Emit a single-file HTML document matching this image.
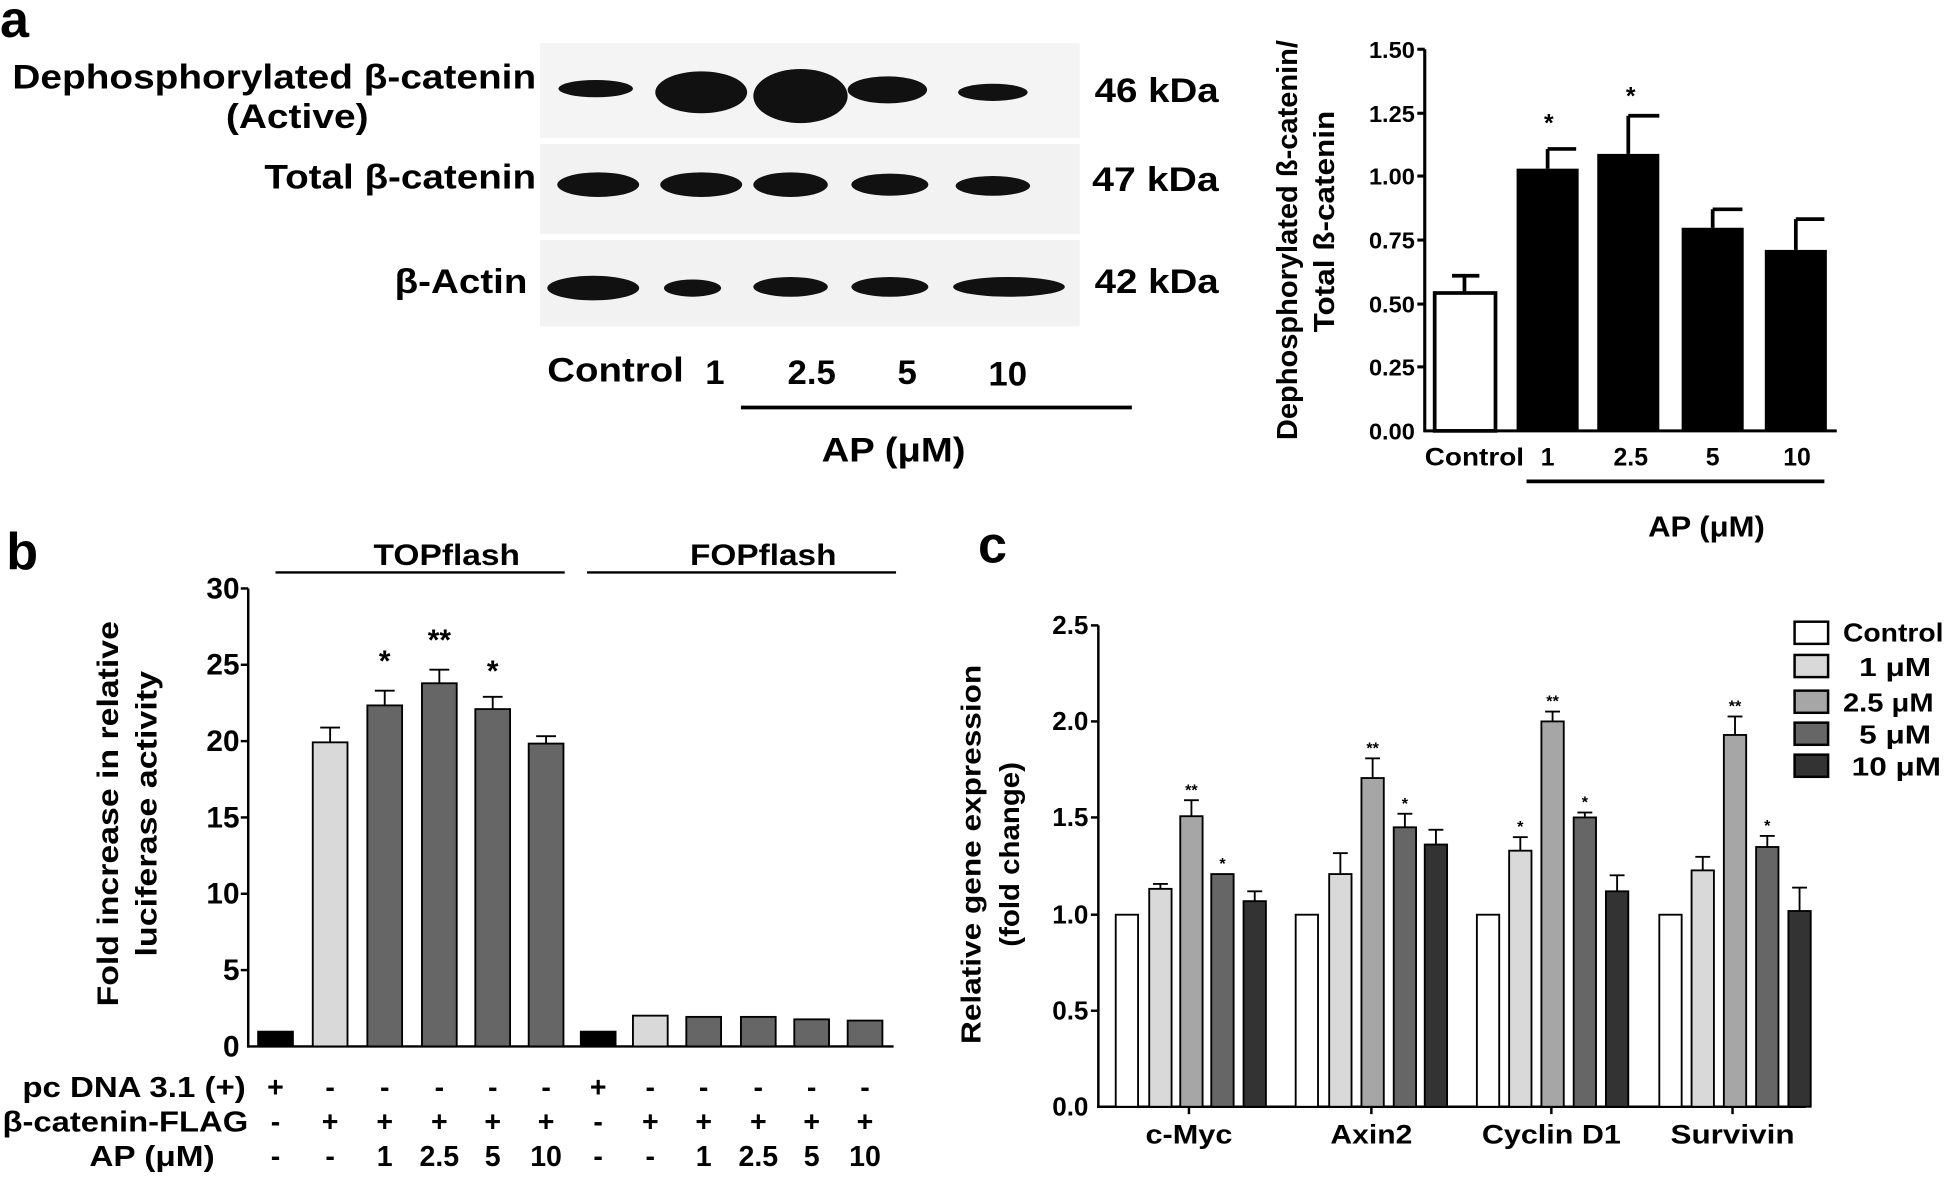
<!DOCTYPE html>
<html><head><meta charset="utf-8"><style>
html,body{margin:0;padding:0;background:#fff;}
svg{display:block;}
text{font-family:"Liberation Sans",sans-serif;font-weight:bold;fill:#000;}
</style></head><body>
<svg width="1946" height="1188" viewBox="0 0 1568 965" preserveAspectRatio="none" xmlns="http://www.w3.org/2000/svg">
<!-- Panel a -->
<text x="0" y="30" font-size="42">a</text>
<rect x="435" y="35" width="435" height="77" fill="#f4f4f4"/>
<rect x="435" y="117" width="435" height="73" fill="#f2f2f2"/>
<rect x="435" y="195" width="435" height="70" fill="#f2f2f2"/>
<g fill="#111">
<ellipse cx="480" cy="72" rx="30" ry="7"/>
<ellipse cx="565" cy="75" rx="37" ry="17"/>
<ellipse cx="645" cy="78" rx="38" ry="22"/>
<ellipse cx="715" cy="73" rx="32" ry="11"/>
<ellipse cx="800" cy="75" rx="28" ry="7"/>
<ellipse cx="482" cy="150" rx="33" ry="10"/>
<ellipse cx="565" cy="150" rx="33" ry="10"/>
<ellipse cx="637" cy="150" rx="30" ry="10"/>
<ellipse cx="717" cy="150" rx="31" ry="9"/>
<ellipse cx="800" cy="151" rx="30" ry="8"/>
<ellipse cx="478" cy="234" rx="37" ry="10"/>
<ellipse cx="558" cy="234" rx="23" ry="7"/>
<ellipse cx="637" cy="233" rx="30" ry="8"/>
<ellipse cx="717" cy="233" rx="31" ry="8"/>
<ellipse cx="813" cy="233" rx="45" ry="8"/>
</g>
<text x="10" y="72" font-size="28" textLength="422" lengthAdjust="spacingAndGlyphs">Dephosphorylated β-catenin</text>
<text x="182" y="104" font-size="28" textLength="115" lengthAdjust="spacingAndGlyphs">(Active)</text>
<text x="213" y="153" font-size="28" textLength="219" lengthAdjust="spacingAndGlyphs">Total β-catenin</text>
<text x="318" y="238" font-size="28" textLength="107" lengthAdjust="spacingAndGlyphs">β-Actin</text>
<text x="882" y="83" font-size="28" textLength="100" lengthAdjust="spacingAndGlyphs">46 kDa</text>
<text x="880" y="155" font-size="28" textLength="102" lengthAdjust="spacingAndGlyphs">47 kDa</text>
<text x="882" y="238" font-size="28" textLength="100" lengthAdjust="spacingAndGlyphs">42 kDa</text>
<g font-size="28" text-anchor="middle">
<text x="496" y="310" textLength="110" lengthAdjust="spacingAndGlyphs">Control</text><text x="576" y="312">1</text><text x="654" y="312">2.5</text><text x="731" y="312">5</text><text x="812" y="313">10</text>
<text x="720" y="375" textLength="116" lengthAdjust="spacingAndGlyphs">AP (μM)</text>
</g>
<line x1="597" y1="331" x2="912" y2="331" stroke="#000" stroke-width="3"/>
<!-- bar chart a -->
<g stroke="#000" stroke-width="2.5">
<line x1="1148" y1="40" x2="1148" y2="351"/>
<line x1="1147" y1="350" x2="1480" y2="350"/>
<line x1="1142" y1="40" x2="1148" y2="40"/><line x1="1142" y1="92" x2="1148" y2="92"/><line x1="1142" y1="143" x2="1148" y2="143"/><line x1="1142" y1="195" x2="1148" y2="195"/><line x1="1142" y1="247" x2="1148" y2="247"/><line x1="1142" y1="298" x2="1148" y2="298"/>
</g>
<g font-size="19" text-anchor="end">
<text x="1140" y="47">1.50</text><text x="1140" y="99">1.25</text><text x="1140" y="150">1.00</text><text x="1140" y="202">0.75</text><text x="1140" y="254">0.50</text><text x="1140" y="305">0.25</text><text x="1140" y="357">0.00</text>
</g>
<g stroke="#000" stroke-width="3">
<line x1="1180" y1="238" x2="1180" y2="224"/><line x1="1170" y1="224" x2="1192" y2="224"/>
<line x1="1247" y1="137" x2="1247" y2="121"/><line x1="1247" y1="121" x2="1270" y2="121"/>
<line x1="1312" y1="125" x2="1312" y2="94"/><line x1="1312" y1="94" x2="1337" y2="94"/>
<line x1="1380" y1="185" x2="1380" y2="170"/><line x1="1380" y1="170" x2="1404" y2="170"/>
<line x1="1447" y1="203" x2="1447" y2="178"/><line x1="1447" y1="178" x2="1470" y2="178"/>
</g>
<rect x="1156" y="238" width="49" height="112" fill="#fff" stroke="#000" stroke-width="3"/>
<rect x="1222" y="137" width="50" height="213" fill="#000"/>
<rect x="1287" y="125" width="50" height="225" fill="#000"/>
<rect x="1355" y="185" width="50" height="165" fill="#000"/>
<rect x="1422" y="203" width="50" height="147" fill="#000"/>
<text x="1248" y="107" font-size="20" text-anchor="middle">*</text>
<text x="1314" y="85" font-size="20" text-anchor="middle">*</text>
<g font-size="20" text-anchor="middle">
<text x="1188" y="378" textLength="80" lengthAdjust="spacingAndGlyphs">Control</text><text x="1247" y="378">1</text><text x="1314" y="378">2.5</text><text x="1380" y="378">5</text><text x="1448" y="378">10</text>
<text x="1375" y="436" font-size="23" textLength="94" lengthAdjust="spacingAndGlyphs">AP (μM)</text>
</g>
<line x1="1230" y1="391" x2="1470" y2="391" stroke="#000" stroke-width="3"/>
<g font-size="23" text-anchor="middle">
<text transform="translate(1045,195) rotate(-90)" textLength="325" lengthAdjust="spacingAndGlyphs">Dephosphorylated ß-catenin/</text>
<text transform="translate(1075,180) rotate(-90)" textLength="180" lengthAdjust="spacingAndGlyphs">Total ß-catenin</text>
</g>

<!-- Panel b -->
<text x="5" y="462" font-size="42">b</text>
<text x="360" y="459" font-size="24" text-anchor="middle" textLength="118" lengthAdjust="spacingAndGlyphs">TOPflash</text>
<text x="615" y="459" font-size="24" text-anchor="middle" textLength="118" lengthAdjust="spacingAndGlyphs">FOPflash</text>
<line x1="222" y1="465" x2="455" y2="465" stroke="#000" stroke-width="2"/>
<line x1="473" y1="465" x2="722" y2="465" stroke="#000" stroke-width="2"/>
<g stroke="#000" stroke-width="2">
<line x1="200" y1="478" x2="200" y2="851"/>
<line x1="199" y1="850" x2="720" y2="850"/>
<line x1="194" y1="478" x2="200" y2="478"/><line x1="194" y1="540" x2="200" y2="540"/><line x1="194" y1="602" x2="200" y2="602"/><line x1="194" y1="664" x2="200" y2="664"/><line x1="194" y1="726" x2="200" y2="726"/><line x1="194" y1="788" x2="200" y2="788"/>
</g>
<g font-size="24" text-anchor="end">
<text x="193" y="486">30</text><text x="193" y="548">25</text><text x="193" y="610">20</text><text x="193" y="672">15</text><text x="193" y="734">10</text><text x="193" y="796">5</text><text x="193" y="858">0</text>
</g>
<g stroke="#000" stroke-width="1.5">
<line x1="266" y1="603" x2="266" y2="591"/><line x1="258" y1="591" x2="274" y2="591"/>
<line x1="310" y1="573" x2="310" y2="561"/><line x1="302" y1="561" x2="318" y2="561"/>
<line x1="354" y1="555" x2="354" y2="544"/><line x1="346" y1="544" x2="362" y2="544"/>
<line x1="397" y1="576" x2="397" y2="566"/><line x1="389" y1="566" x2="405" y2="566"/>
<line x1="440" y1="604" x2="440" y2="598"/><line x1="432" y1="598" x2="448" y2="598"/>
</g>
<g stroke="#000" stroke-width="1.5">
<rect x="208" y="838" width="28" height="12" fill="#000"/>
<rect x="252" y="603" width="28" height="247" fill="#d9d9d9"/>
<rect x="296" y="573" width="28" height="277" fill="#666"/>
<rect x="340" y="555" width="28" height="295" fill="#666"/>
<rect x="383" y="576" width="28" height="274" fill="#666"/>
<rect x="426" y="604" width="28" height="246" fill="#666"/>
<rect x="468" y="838" width="28" height="12" fill="#000"/>
<rect x="510" y="825" width="28" height="25" fill="#d9d9d9"/>
<rect x="553" y="826" width="28" height="24" fill="#666"/>
<rect x="597" y="826" width="28" height="24" fill="#666"/>
<rect x="640" y="828" width="28" height="22" fill="#666"/>
<rect x="683" y="829" width="28" height="21" fill="#666"/>
</g>
<g font-size="24" text-anchor="middle">
<text x="310" y="545">*</text><text x="354" y="528">**</text><text x="397" y="553">*</text>
</g>
<g font-size="24" text-anchor="middle">
<text transform="translate(95,661) rotate(-90)" textLength="313" lengthAdjust="spacingAndGlyphs">Fold  increase in relative</text>
<text transform="translate(126,661) rotate(-90)" textLength="232" lengthAdjust="spacingAndGlyphs">luciferase activity</text>
</g>
<g font-size="23">
<text x="18" y="891" textLength="180" lengthAdjust="spacingAndGlyphs">pc DNA 3.1 (+)</text>
<text x="2" y="919" textLength="198" lengthAdjust="spacingAndGlyphs">β-catenin-FLAG</text>
<text x="72" y="947" textLength="101" lengthAdjust="spacingAndGlyphs">AP (μM)</text>
</g>
<g font-size="23" text-anchor="middle">
<text x="222" y="891">+</text><text x="266" y="891">-</text><text x="310" y="891">-</text><text x="354" y="891">-</text><text x="397" y="891">-</text><text x="440" y="891">-</text><text x="482" y="891">+</text><text x="524" y="891">-</text><text x="567" y="891">-</text><text x="611" y="891">-</text><text x="654" y="891">-</text><text x="697" y="891">-</text>
<text x="222" y="919">-</text><text x="266" y="919">+</text><text x="310" y="919">+</text><text x="354" y="919">+</text><text x="397" y="919">+</text><text x="440" y="919">+</text><text x="482" y="919">-</text><text x="524" y="919">+</text><text x="567" y="919">+</text><text x="611" y="919">+</text><text x="654" y="919">+</text><text x="697" y="919">+</text>
<text x="222" y="947">-</text><text x="266" y="947">-</text><text x="310" y="947">1</text><text x="354" y="947">2.5</text><text x="397" y="947">5</text><text x="440" y="947">10</text><text x="482" y="947">-</text><text x="524" y="947">-</text><text x="567" y="947">1</text><text x="611" y="947">2.5</text><text x="654" y="947">5</text><text x="697" y="947">10</text>
</g>

<!-- Panel c -->
<text x="788" y="457" font-size="42">c</text>
<g stroke="#000" stroke-width="2">
<line x1="885" y1="508" x2="885" y2="900"/>
<line x1="884" y1="899" x2="1455" y2="899"/>
<line x1="879" y1="508" x2="885" y2="508"/><line x1="879" y1="586" x2="885" y2="586"/><line x1="879" y1="664" x2="885" y2="664"/><line x1="879" y1="743" x2="885" y2="743"/><line x1="879" y1="821" x2="885" y2="821"/>
<line x1="958" y1="899" x2="958" y2="905"/><line x1="1105" y1="899" x2="1105" y2="905"/><line x1="1250" y1="899" x2="1250" y2="905"/><line x1="1396" y1="899" x2="1396" y2="905"/>
</g>
<g font-size="21" text-anchor="end">
<text x="877" y="515">2.5</text><text x="877" y="593">2.0</text><text x="877" y="671">1.5</text><text x="877" y="750">1.0</text><text x="877" y="828">0.5</text><text x="877" y="906">0.0</text>
</g>
<g stroke="#000" stroke-width="1.5">
<rect x="899" y="743" width="18" height="156" fill="#fff"/>
<line x1="935" y1="722" x2="935" y2="718"/><line x1="929" y1="718" x2="941" y2="718"/>
<rect x="926" y="722" width="18" height="177" fill="#d9d9d9"/>
<line x1="960" y1="663" x2="960" y2="650"/><line x1="954" y1="650" x2="966" y2="650"/>
<rect x="951" y="663" width="18" height="236" fill="#a6a6a6"/>
<rect x="976" y="710" width="18" height="189" fill="#666"/>
<line x1="1011" y1="732" x2="1011" y2="724"/><line x1="1005" y1="724" x2="1017" y2="724"/>
<rect x="1002" y="732" width="18" height="167" fill="#333"/>
<rect x="1044" y="743" width="18" height="156" fill="#fff"/>
<line x1="1080" y1="710" x2="1080" y2="693"/><line x1="1074" y1="693" x2="1086" y2="693"/>
<rect x="1071" y="710" width="18" height="189" fill="#d9d9d9"/>
<line x1="1106" y1="632" x2="1106" y2="616"/><line x1="1100" y1="616" x2="1112" y2="616"/>
<rect x="1097" y="632" width="18" height="267" fill="#a6a6a6"/>
<line x1="1132" y1="672" x2="1132" y2="661"/><line x1="1126" y1="661" x2="1138" y2="661"/>
<rect x="1123" y="672" width="18" height="227" fill="#666"/>
<line x1="1157" y1="686" x2="1157" y2="674"/><line x1="1151" y1="674" x2="1163" y2="674"/>
<rect x="1148" y="686" width="18" height="213" fill="#333"/>
<rect x="1190" y="743" width="18" height="156" fill="#fff"/>
<line x1="1225" y1="691" x2="1225" y2="680"/><line x1="1219" y1="680" x2="1231" y2="680"/>
<rect x="1216" y="691" width="18" height="208" fill="#d9d9d9"/>
<line x1="1251" y1="586" x2="1251" y2="578"/><line x1="1245" y1="578" x2="1257" y2="578"/>
<rect x="1242" y="586" width="18" height="313" fill="#a6a6a6"/>
<line x1="1277" y1="664" x2="1277" y2="660"/><line x1="1271" y1="660" x2="1283" y2="660"/>
<rect x="1268" y="664" width="18" height="235" fill="#666"/>
<line x1="1303" y1="724" x2="1303" y2="711"/><line x1="1297" y1="711" x2="1309" y2="711"/>
<rect x="1294" y="724" width="18" height="175" fill="#333"/>
<rect x="1337" y="743" width="18" height="156" fill="#fff"/>
<line x1="1372" y1="707" x2="1372" y2="696"/><line x1="1366" y1="696" x2="1378" y2="696"/>
<rect x="1363" y="707" width="18" height="192" fill="#d9d9d9"/>
<line x1="1398" y1="597" x2="1398" y2="582"/><line x1="1392" y1="582" x2="1404" y2="582"/>
<rect x="1389" y="597" width="18" height="302" fill="#a6a6a6"/>
<line x1="1424" y1="688" x2="1424" y2="679"/><line x1="1418" y1="679" x2="1430" y2="679"/>
<rect x="1415" y="688" width="18" height="211" fill="#666"/>
<line x1="1450" y1="740" x2="1450" y2="721"/><line x1="1444" y1="721" x2="1456" y2="721"/>
<rect x="1441" y="740" width="18" height="159" fill="#333"/>
</g>
<g font-size="13" text-anchor="middle" fill="#333">
<text x="960" y="646">**</text><text x="985" y="706">*</text>
<text x="1106" y="612">**</text><text x="1132" y="657">*</text>
<text x="1225" y="676">*</text><text x="1251" y="574">**</text><text x="1277" y="656">*</text>
<text x="1398" y="578">**</text><text x="1424" y="675">*</text>
</g>
<g font-size="22" text-anchor="middle">
<text x="958" y="929" textLength="70" lengthAdjust="spacingAndGlyphs">c-Myc</text><text x="1105" y="929" textLength="66" lengthAdjust="spacingAndGlyphs">Axin2</text><text x="1250" y="929" textLength="112" lengthAdjust="spacingAndGlyphs">Cyclin D1</text><text x="1396" y="929" textLength="100" lengthAdjust="spacingAndGlyphs">Survivin</text>
</g>
<g font-size="22" text-anchor="middle">
<text transform="translate(790,694) rotate(-90)" textLength="308" lengthAdjust="spacingAndGlyphs">Relative gene expression</text>
<text transform="translate(821,694) rotate(-90)" textLength="150" lengthAdjust="spacingAndGlyphs">(fold change)</text>
</g>
<g stroke="#000" stroke-width="2">
<rect x="1446" y="505" width="27" height="18" fill="#fff"/>
<rect x="1446" y="532" width="27" height="18" fill="#d9d9d9"/>
<rect x="1446" y="561" width="27" height="18" fill="#a6a6a6"/>
<rect x="1446" y="587" width="27" height="18" fill="#666"/>
<rect x="1446" y="613" width="27" height="18" fill="#333"/>
</g>
<g font-size="21">
<text x="1485" y="521" textLength="81" lengthAdjust="spacingAndGlyphs">Control</text>
<text x="1498" y="549" textLength="58" lengthAdjust="spacingAndGlyphs">1  μM</text>
<text x="1485" y="578" textLength="73" lengthAdjust="spacingAndGlyphs">2.5 μM</text>
<text x="1498" y="604" textLength="58" lengthAdjust="spacingAndGlyphs">5  μM</text>
<text x="1492" y="630" textLength="72" lengthAdjust="spacingAndGlyphs">10  μM</text>
</g>
</svg>
</body></html>
